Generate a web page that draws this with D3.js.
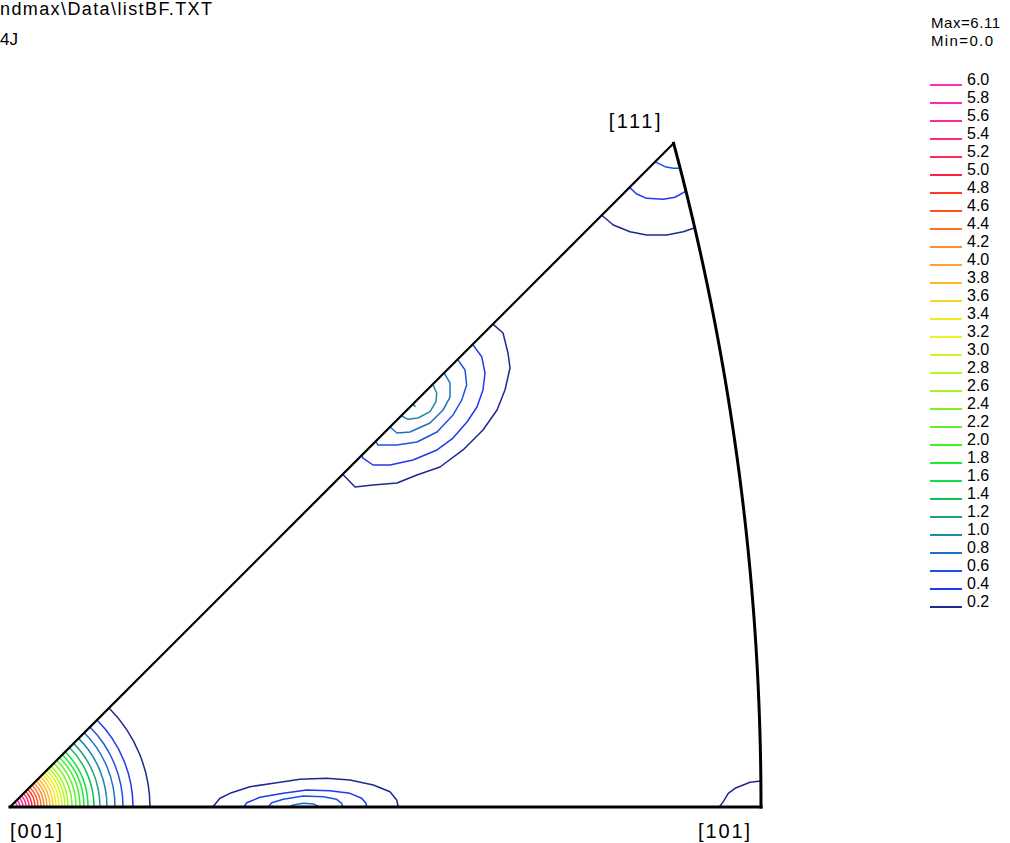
<!DOCTYPE html>
<html>
<head>
<meta charset="utf-8">
<script src="https://cdn.jsdelivr.net/npm/d3@7"></script>
<style>
  body { margin: 0; background: #fff; }
  svg { display: block; }
  text { font-family: "Liberation Sans", Arial, sans-serif; fill: #000; }
</style>
</head>
<body>
<svg id="chart" width="1010" height="843"></svg>
<script>
// ---- data -------------------------------------------------------------
// Contour levels (top of legend first) and their line colours
const levels = [6.0, 5.8, 5.6, 5.4, 5.2, 5.0, 4.8, 4.6, 4.4, 4.2, 4.0, 3.8, 3.6, 3.4, 3.2,
                3.0, 2.8, 2.6, 2.4, 2.2, 2.0, 1.8, 1.6, 1.4, 1.2, 1.0, 0.8, 0.6, 0.4, 0.2];
const levelColors = ["#ff30c0", "#ff28b0", "#ff2898", "#ff2a80", "#ff2a60", "#ff2040",
                     "#ff3a20", "#ff5020", "#ff7028", "#ff8c30", "#ffa030", "#ffb820",
                     "#ffd020", "#f4ea20", "#e8f820", "#d0f828", "#b8f820", "#a0f820",
                     "#80f020", "#60f028", "#40f028", "#20ec30", "#10e040", "#10c050",
                     "#20a080", "#2088a8", "#2070c0", "#2050e0", "#2038f0", "#202890"];
const densityMax = 6.11;
const densityMin = 0.0;

// Radius of each level's ring round [001], in units of the [001]-[101] distance
const cornerLevels = [0.2, 0.4, 0.6, 0.8, 1.0, 1.2, 1.4, 1.6, 1.8, 2.0, 2.2, 2.4, 2.6, 2.8, 3.0,
                      3.2, 3.4, 3.6, 3.8, 4.0, 4.2, 4.4, 4.6, 4.8, 5.0, 5.2, 5.4, 5.6, 5.8, 6.0];
const cornerRadii = [0.1864, 0.1638, 0.1505, 0.1398, 0.1292, 0.1198, 0.1119, 0.1039, 0.0985, 0.0932,
                     0.0879, 0.0826, 0.0772, 0.0732, 0.0692, 0.0652, 0.0613, 0.0573, 0.0533, 0.0493,
                     0.0453, 0.0413, 0.0373, 0.0333, 0.0293, 0.0253, 0.0213, 0.0173, 0.0133, 0.0093];

// Other iso-lines: [u, v] in the projection plane, [001]-[101] distance = 1
const edgePeakLines = [
  { level: 0.2, points: [[0.643,0.643],[0.6565,0.6312],[0.6631,0.6045],[0.6658,0.5846],[0.6591,0.5553],
                         [0.6485,0.5286],[0.6298,0.5020],[0.6032,0.4754],[0.5726,0.4527],[0.5419,0.4421],
                         [0.5153,0.4314],[0.4834,0.4288],[0.4594,0.4261],[0.443,0.443]] },
  { level: 0.4, points: [[0.616,0.616],[0.6281,0.5996],[0.6325,0.5779],[0.6298,0.5553],[0.6218,0.5326],
                         [0.6085,0.5126],[0.5899,0.4913],[0.5686,0.4754],[0.5366,0.4621],[0.5060,0.4554],
                         [0.4834,0.4554],[0.4700,0.4647],[0.468,0.468]] },
  { level: 0.6, points: [[0.596,0.596],[0.6059,0.5819],[0.6081,0.5619],[0.6015,0.5419],[0.5899,0.5220],
                         [0.5686,0.4993],[0.5419,0.4860],[0.5153,0.4820],[0.4900,0.4820],[0.487,0.487]] },
  { level: 0.8, points: [[0.578,0.578],[0.5859,0.5646],[0.5859,0.5459],[0.5766,0.5286],[0.5593,0.5113],
                         [0.5326,0.4993],[0.5153,0.4980],[0.506,0.506]] },
  { level: 1.0, points: [[0.563,0.563],[0.5682,0.5509],[0.5672,0.5397],[0.5593,0.5264],[0.5433,0.5180],
                         [0.5300,0.5162],[0.521,0.521]] },
  { level: 1.2, points: [[0.536,0.536],[0.5395,0.5335],[0.5375,0.5365]] }
];
const bottomPeakLines = [
  { level: 0.2, points: [[0.2699,0],[0.2796,0.0116],[0.2929,0.0182],[0.3196,0.0270],[0.3551,0.0324],
                         [0.3862,0.0369],[0.4217,0.0382],[0.4527,0.0360],[0.4838,0.0293],[0.5060,0.0204],
                         [0.5149,0.0093],[0.5170,0]] },
  { level: 0.4, points: [[0.3116,0],[0.3152,0.0057],[0.3329,0.0129],[0.3639,0.0182],[0.3951,0.0226],
                         [0.4261,0.0217],[0.4527,0.0182],[0.4683,0.0116],[0.4740,0.0049],[0.4750,0]] },
  { level: 0.6, points: [[0.3439,0],[0.3485,0.0057],[0.3639,0.0102],[0.3906,0.0146],[0.4172,0.0137],
                         [0.4350,0.0102],[0.4417,0.0049],[0.4430,0]] },
  { level: 0.8, points: [[0.3719,0],[0.3772,0.0027],[0.3906,0.0049],[0.4039,0.0040],[0.4105,0.0012],
                         [0.4105,0]] }
];
const pole111Lines = [
  { level: 0.6, points: [[0.859,0.859],[0.8722,0.8526],[0.8832,0.8505],[0.891,0.8505]] },
  { level: 0.4, points: [[0.825,0.825],[0.8345,0.8162],[0.8478,0.8105],[0.8699,0.8092],[0.8855,0.8119],
                         [0.899,0.8193]] },
  { level: 0.2, points: [[0.788,0.788],[0.8033,0.7750],[0.8256,0.7660],[0.8478,0.7617],[0.8744,0.7617],
                         [0.8965,0.7660],[0.912,0.7714]] }
];
const pole101Lines = [
  { level: 0.2, points: [[0.9445,0],[0.9498,0.0071],[0.9564,0.0182],[0.9654,0.0249],[0.9764,0.0293],
                         [0.9854,0.0329],[1.0,0.0346]] }
];

const titleLines = ["ndmax\\Data\\listBF.TXT", "4J"];

// ---- geometry -----------------------------------------------------------
// Stereographic projection of the cubic standard triangle, scaled so that
// [001]-[101] has length 1.
const unit = Math.tan(Math.PI / 8);
const proj = (vx, vy, vz) => [vx / (1 + vz) / unit, vy / (1 + vz) / unit];
const p001 = proj(0, 0, 1);
const p101 = proj(Math.SQRT1_2, 0, Math.SQRT1_2);
const p111 = proj(1 / Math.sqrt(3), 1 / Math.sqrt(3), 1 / Math.sqrt(3));

const svg = d3.select("#chart");
svg.append("rect").attr("width", 1010).attr("height", 843).attr("fill", "#fff");

const x = d3.scaleLinear().domain([0, 1]).range([10, 761]);
const y = d3.scaleLinear().domain([0, 1]).range([807, 56]);
const color = d3.scaleOrdinal().domain(levels).range(levelColors);

const line = d3.line().x(d => x(d[0])).y(d => y(d[1]));

// ---- contour lines --------------------------------------------------------
const gC = svg.append("g").attr("fill", "none").attr("stroke-width", 1.5)
  .attr("stroke-linejoin", "round");

// rings round [001]
gC.selectAll("path.ring")
  .data(cornerLevels.map((lv, i) => ({ level: lv, r: cornerRadii[i] })))
  .join("path")
  .attr("class", "ring")
  .attr("stroke", d => color(d.level))
  .attr("d", d => {
    const cx = x(p001[0]), cy = y(p001[1]);
    const rp = x(d.r) - x(0);
    const p = d3.path();
    p.moveTo(cx + rp, cy);
    p.arc(cx, cy, rp, 0, -Math.PI / 4, true);
    return p.toString();
  });

const polyLines = [].concat(edgePeakLines, bottomPeakLines, pole111Lines, pole101Lines);
gC.selectAll("path.iso")
  .data(polyLines)
  .join("path")
  .attr("class", "iso")
  .attr("stroke", d => color(d.level))
  .attr("d", d => line(d.points));

// ---- triangle boundary ------------------------------------------------------
const tMax = Math.atan(Math.SQRT1_2);
const arcPts = d3.range(0, 201).map(i => {
  const t = tMax * i / 200;
  const c = Math.cos(t) * Math.SQRT1_2;
  return proj(c, Math.sin(t), c);
});
const gB = svg.append("g").attr("fill", "none").attr("stroke", "#000")
  .attr("stroke-linecap", "square");
gB.append("path").attr("d", line([p001, p101])).attr("stroke-width", 3);
gB.append("path").attr("d", line([p001, p111])).attr("stroke-width", 2.2);
gB.append("path").attr("d", line(arcPts)).attr("stroke-width", 3);

// ---- pole labels ----------------------------------------------------------
const poleLabels = [
  { text: "[001]", p: p001, dx: 26, dy: 31 },
  { text: "[101]", p: p101, dx: -37, dy: 31 },
  { text: "[111]", p: p111, dx: -39, dy: -15 }
];
svg.append("g").selectAll("text")
  .data(poleLabels)
  .join("text")
  .attr("x", d => x(d.p[0]) + d.dx)
  .attr("y", d => y(d.p[1]) + d.dy)
  .attr("text-anchor", "middle")
  .attr("font-size", 20)
  .attr("textLength", 52)
  .attr("lengthAdjust", "spacing")
  .text(d => d.text);

// ---- header text --------------------------------------------------------------
svg.append("text").attr("x", 0).attr("y", 15).attr("font-size", 18)
  .attr("textLength", 212).attr("lengthAdjust", "spacing").text(titleLines[0]);
svg.append("text").attr("x", 0).attr("y", 45).attr("font-size", 17).text(titleLines[1]);

// ---- legend ---------------------------------------------------------------------
const legend = svg.append("g");
legend.append("text").attr("x", 931).attr("y", 28).attr("font-size", 15)
  .attr("textLength", 69).attr("lengthAdjust", "spacing")
  .text("Max=" + densityMax.toFixed(2));
legend.append("text").attr("x", 931).attr("y", 46).attr("font-size", 15)
  .attr("textLength", 62).attr("lengthAdjust", "spacing")
  .text("Min=" + densityMin.toFixed(1));

const ly = d3.scalePoint().domain(levels).range([85, 85 + 18 * (levels.length - 1)]);
const item = legend.selectAll("g.item").data(levels).join("g").attr("class", "item");
item.append("line")
  .attr("x1", 930).attr("x2", 962)
  .attr("y1", d => ly(d)).attr("y2", d => ly(d))
  .attr("stroke", d => color(d)).attr("stroke-width", 2);
item.append("text")
  .attr("x", 967).attr("y", d => ly(d))
  .attr("font-size", 16)
  .text(d => d.toFixed(1));
</script>
</body>
</html>
